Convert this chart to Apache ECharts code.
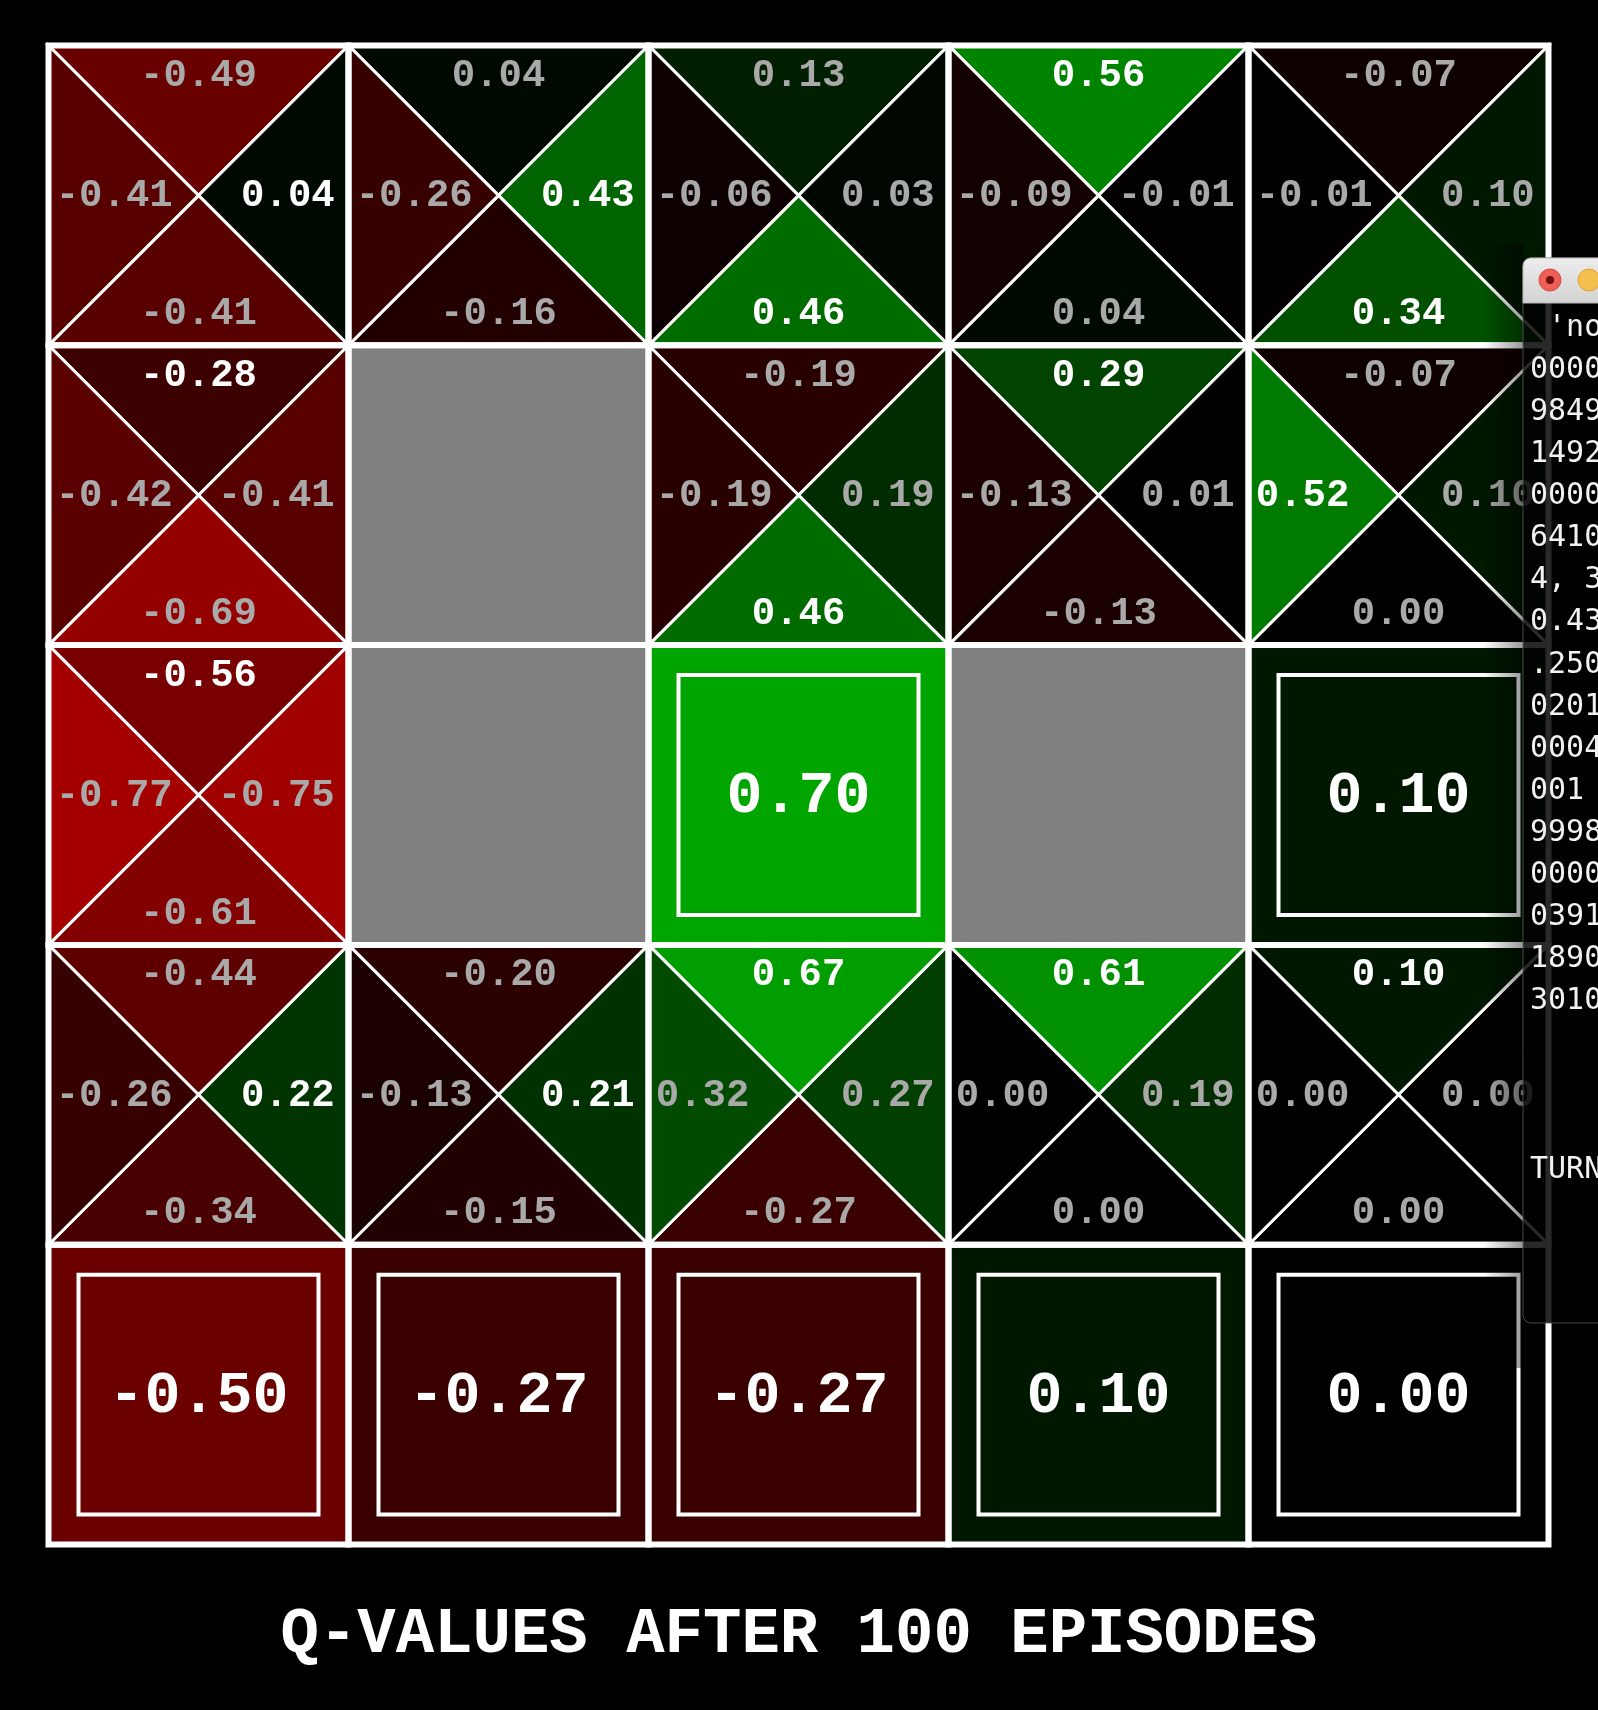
<!DOCTYPE html>
<html>
<head>
<meta charset="utf-8">
<script src="https://cdn.jsdelivr.net/npm/echarts@6/dist/echarts.min.js"></script>
<style>
html,body{margin:0;padding:0;background:#000;}
#chart{width:1598px;height:1710px;}
</style>
</head>
<body>
<div id="chart"></div>
<script>
// ---- data (rows from top, columns from left) ----
const qNorth = [
  [-0.49, 0.04, 0.13, 0.56, -0.07],
  [-0.28, null, -0.19, 0.29, -0.07],
  [-0.56, null, null, null, null],
  [-0.44, -0.20, 0.67, 0.61, 0.10],
  [null, null, null, null, null]
];
const qEast = [
  [0.04, 0.43, 0.03, -0.01, 0.10],
  [-0.41, null, 0.19, 0.01, 0.10],
  [-0.75, null, null, null, null],
  [0.22, 0.21, 0.27, 0.19, 0.00],
  [null, null, null, null, null]
];
const qSouth = [
  [-0.41, -0.16, 0.46, 0.04, 0.34],
  [-0.69, null, 0.46, -0.13, 0.00],
  [-0.61, null, null, null, null],
  [-0.34, -0.15, -0.27, 0.00, 0.00],
  [null, null, null, null, null]
];
const qWest = [
  [-0.41, -0.26, -0.06, -0.09, -0.01],
  [-0.42, null, -0.19, -0.13, 0.52],
  [-0.77, null, null, null, null],
  [-0.26, -0.13, 0.32, 0.00, 0.00],
  [null, null, null, null, null]
];
const terminalValues = [
  [null, null, null, null, null],
  [null, null, null, null, null],
  [null, null, 0.70, null, 0.10],
  [null, null, null, null, null],
  [-0.50, -0.27, -0.27, 0.10, 0.00]
];
const wallCells = [[1, 1], [1, 2], [3, 2]]; // [col, row]
const titleText = 'Q-VALUES AFTER 100 EPISODES';
const terminalLines = [" 'no", "0000", "9849", "1492", "0000", "6410", "4, 3", "0.43", ".250",
  "0201", "0004", "001 ", "9998", "0000", "0391", "1890", "3010", "", "", "", "TURN"];

const nRows = 5, nCols = 5;

// ---- build series data ----
const qData = [], termData = [], wallData = [], gridData = [];
let allVals = [];
for (let r = 0; r < nRows; r++) {
  for (let c = 0; c < nCols; c++) {
    gridData.push([c, r]);
    if (qNorth[r][c] !== null) {
      qData.push([c, r, qNorth[r][c], qEast[r][c], qSouth[r][c], qWest[r][c]]);
      allVals.push(qNorth[r][c], qEast[r][c], qSouth[r][c], qWest[r][c]);
    }
    if (terminalValues[r][c] !== null) {
      termData.push([c, r, terminalValues[r][c]]);
      allVals.push(terminalValues[r][c]);
    }
  }
}
wallCells.forEach(w => wallData.push([w[0], w[1]]));
const vMin = Math.min.apply(null, allVals);
const vMax = Math.max.apply(null, allVals);

function valColor(v) {
  let r = 0, g = 0;
  if (v < 0 && vMin < 0) r = v * 0.65 / vMin;
  if (v > 0 && vMax > 0) g = v * 0.65 / vMax;
  return 'rgb(' + Math.floor(r * 255) + ',' + Math.floor(g * 255) + ',0)';
}
const FONT = '"Liberation Mono", "Courier New", monospace';
const WHITE = '#ffffff', MUTED = '#a9a9a9';

function renderQ(params, api) {
  const c = api.value(0), r = api.value(1);
  const n = api.value(2), e = api.value(3), s = api.value(4), w = api.value(5);
  const tl = api.coord([c, r]), tr = api.coord([c + 1, r]);
  const br = api.coord([c + 1, r + 1]), bl = api.coord([c, r + 1]);
  const ct = api.coord([c + 0.5, r + 0.5]);
  const cw = tr[0] - tl[0], ch = bl[1] - tl[1];
  const mx = Math.max(n, e, s, w);
  const fs = Math.round(ch * 0.13);
  const tri = (pts, v) => ({
    type: 'polygon', shape: { points: pts },
    style: { fill: valColor(v), stroke: '#fff', lineWidth: 3 }
  });
  const txt = (x, y, v, align) => ({
    type: 'text', z2: 10,
    style: {
      x: x, y: y, text: v.toFixed(2), fill: v >= mx ? WHITE : MUTED,
      font: 'bold ' + fs + 'px ' + FONT, align: align, verticalAlign: 'middle'
    }
  });
  return {
    type: 'group',
    children: [
      tri([tl, tr, ct], n), tri([tr, br, ct], e), tri([br, bl, ct], s), tri([bl, tl, ct], w),
      txt(ct[0], tl[1] + ch * 0.102, n, 'center'),
      txt(ct[0], bl[1] - ch * 0.104, s, 'center'),
      txt(tr[0] - cw * 0.046, ct[1] + 1, e, 'right'),
      txt(tl[0] + cw * 0.024, ct[1] + 1, w, 'left')
    ]
  };
}

function renderTerm(params, api) {
  const c = api.value(0), r = api.value(1), v = api.value(2);
  const tl = api.coord([c, r]), br = api.coord([c + 1, r + 1]);
  const itl = api.coord([c + 0.1, r + 0.1]), ibr = api.coord([c + 0.9, r + 0.9]);
  const ct = api.coord([c + 0.5, r + 0.5]);
  const fs = Math.round((br[1] - tl[1]) * 0.2);
  return {
    type: 'group',
    children: [
      { type: 'rect', shape: { x: tl[0], y: tl[1], width: br[0] - tl[0], height: br[1] - tl[1] },
        style: { fill: valColor(v) } },
      { type: 'rect', shape: { x: itl[0], y: itl[1], width: ibr[0] - itl[0], height: ibr[1] - itl[1] },
        style: { fill: 'none', stroke: '#fff', lineWidth: 4 } },
      { type: 'text', style: { x: ct[0], y: ct[1] + 2, text: v.toFixed(2), fill: '#fff',
        font: 'bold ' + fs + 'px ' + FONT, align: 'center', verticalAlign: 'middle' } }
    ]
  };
}

function renderWall(params, api) {
  const c = api.value(0), r = api.value(1);
  const tl = api.coord([c, r]), br = api.coord([c + 1, r + 1]);
  return { type: 'rect', shape: { x: tl[0], y: tl[1], width: br[0] - tl[0], height: br[1] - tl[1] },
    style: { fill: '#808080' } };
}

function renderGrid(params, api) {
  const c = api.value(0), r = api.value(1);
  const tl = api.coord([c, r]), br = api.coord([c + 1, r + 1]);
  return { type: 'rect', shape: { x: tl[0], y: tl[1], width: br[0] - tl[0], height: br[1] - tl[1] },
    style: { fill: 'none', stroke: '#fff', lineWidth: 6 } };
}

// ---- terminal window overlay (decoration on top of the chart) ----
const termX = 1523, termY = 258, termBottom = 1323, barH = 45;
const graphicEls = [
  { type: 'rect', z: 100, shape: { x: termX - 40, y: termY - 15, width: 40, height: termBottom - termY + 60 },
    style: { fill: new echarts.graphic.LinearGradient(0, 0, 1, 0, [
      { offset: 0, color: 'rgba(0,0,0,0)' }, { offset: 1, color: 'rgba(0,0,0,0.4)' }]) },
    silent: true },
  { type: 'rect', z: 101, shape: { x: termX, y: termY, width: 120, height: termBottom - termY, r: 8 },
    style: { fill: 'rgba(0,0,0,0.84)', stroke: 'rgba(90,90,90,0.8)', lineWidth: 1 } },
  { type: 'rect', z: 102, shape: { x: termX, y: termY, width: 120, height: barH, r: [8, 8, 0, 0] },
    style: { fill: new echarts.graphic.LinearGradient(0, 0, 0, 1, [
      { offset: 0, color: '#ededed' }, { offset: 1, color: '#d2d2d2' }]), stroke: '#b5b5b5', lineWidth: 1 } },
  { type: 'circle', z: 103, shape: { cx: 1550, cy: 280, r: 11 },
    style: { fill: '#ee5f57', stroke: '#d8463e', lineWidth: 1 } },
  { type: 'circle', z: 104, shape: { cx: 1550, cy: 280, r: 4 }, style: { fill: '#6e0f0b' } },
  { type: 'circle', z: 103, shape: { cx: 1589, cy: 280, r: 11 },
    style: { fill: '#f5bf4f', stroke: '#dea236', lineWidth: 1 } }
];
terminalLines.forEach((line, i) => {
  graphicEls.push({ type: 'text', z: 105, style: {
    x: 1530, y: 328 + i * 42.1, text: line, fill: '#f2f2f2',
    font: '30px "DejaVu Sans Mono", monospace', align: 'left', verticalAlign: 'middle' } });
});
graphicEls.push({ type: 'text', z: 50, style: {
  x: 799, y: 1636, text: titleText, fill: '#fff',
  font: 'bold 64px ' + FONT, align: 'center', verticalAlign: 'middle' } });

const chart = echarts.init(document.getElementById('chart'), null, { renderer: 'canvas' });
chart.setOption({
  backgroundColor: '#000',
  animation: false,
  grid: { left: 48.5, top: 45.5, width: 1500, height: 1499 },
  xAxis: { type: 'value', min: 0, max: nCols, show: false },
  yAxis: { type: 'value', min: 0, max: nRows, inverse: true, show: false },
  series: [
    { type: 'custom', name: 'q', renderItem: renderQ, data: qData, clip: false, z: 2 },
    { type: 'custom', name: 'terminal', renderItem: renderTerm, data: termData, clip: false, z: 2 },
    { type: 'custom', name: 'wall', renderItem: renderWall, data: wallData, clip: false, z: 2 },
    { type: 'custom', name: 'grid', renderItem: renderGrid, data: gridData, clip: false, z: 5 }
  ],
  graphic: graphicEls
});
</script>
</body>
</html>
